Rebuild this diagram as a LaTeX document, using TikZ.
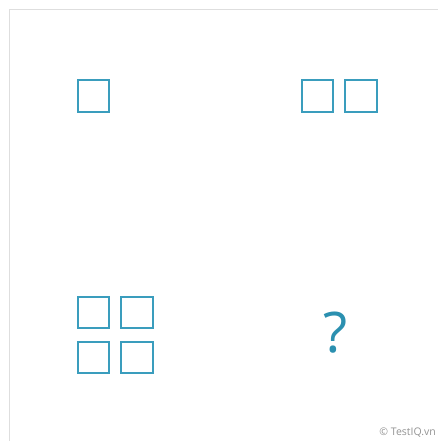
\documentclass[tikz,border=0pt]{standalone}
\usepackage{fontspec}
\setmainfont{Open Sans}
\usepackage{tikz}
\usetikzlibrary{positioning}
\definecolor{TileBlue}{HTML}{3A9DBD}
\definecolor{MarkBlue}{HTML}{2B90B0}
\definecolor{FrameGray}{HTML}{DEDEDE}

\begin{document}
\begin{tikzpicture}[x=1pt, y=-1pt,
  % ── tile style ───────────────────────────────────────────
  cell/.style={
    draw=TileBlue, line width=2pt, fill=white,
    minimum size=31.5pt, inner sep=0pt
  },
  % ── frame style ──────────────────────────────────────────
  frame/.style={draw=FrameGray, line width=1.8pt},
  % ── question mark ────────────────────────────────────────
  qmark/.style={text=MarkBlue, font=\fontsize{56}{56}\selectfont, inner sep=0pt}
]
\useasboundingbox (0,0) rectangle (438,441);

%% ── Frame ──
\coordinate (TL) at (9.5,9.5);
\coordinate (TR) at (438,9.5);
\coordinate (BL) at (9.5,441);
\draw[frame] (BL) -- (TL) -- (TR);

%% ── Panel 1: one tile ──
\node[cell] (A1) at (93.5,95.8) {};

%% ── Panel 2: two tiles ──
\node[cell] (B1) at (317.7,95.8) {};
\node[cell, right=10pt of B1] (B2) {};

%% ── Panel 3: four tiles ──
\node[cell] (C1) at (93.5,312.5) {};
\node[cell, right=10pt of C1] (C2) {};
\node[cell, below=11.5pt of C1] (C3) {};
\node[cell, right=10pt of C3] (C4) {};

%% ── Panel 4: unknown ──
\node[qmark] (Q) at (336,333) {?};

%% ── Credit ──
\node[anchor=east, text=gray!85, font=\fontsize{10.5}{11}\selectfont, inner sep=0pt] (CR) at (436,432.5) {© TestIQ.vn};

\end{tikzpicture}
\end{document}
